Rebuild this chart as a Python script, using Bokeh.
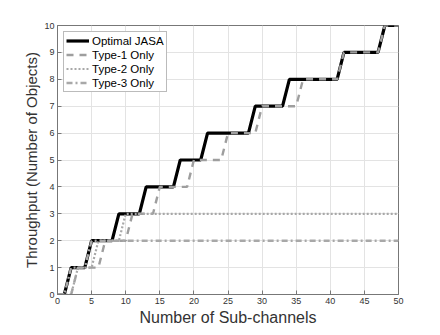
from bokeh.plotting import figure
from bokeh.models import Range1d, FixedTicker, Legend, LegendItem
from bokeh.embed import file_html
from bokeh.resources import INLINE

sub_channels = list(range(0, 51))
optimal_jasa = [0, 0, 1, 1, 1, 2, 2, 2, 2, 3, 3, 3, 3, 4, 4, 4, 4, 4, 5, 5,
                5, 5, 6, 6, 6, 6, 6, 6, 6, 7, 7, 7, 7, 7, 8, 8, 8, 8, 8, 8,
                8, 8, 9, 9, 9, 9, 9, 9, 10, 10, 10]
type1_only = [0, 0, 0, 1, 1, 1, 1, 2, 2, 2, 2, 3, 3, 3, 3, 4, 4, 4, 4, 4,
              5, 5, 5, 5, 5, 6, 6, 6, 6, 6, 7, 7, 7, 7, 7, 7, 8, 8, 8, 8,
              8, 8, 9, 9, 9, 9, 9, 9, 10, 10, 10]
type2_only = [0, 0, 0, 1, 1, 1, 2, 2, 2, 2, 3, 3, 3, 3, 3, 3, 3, 3, 3, 3,
              3, 3, 3, 3, 3, 3, 3, 3, 3, 3, 3, 3, 3, 3, 3, 3, 3, 3, 3, 3,
              3, 3, 3, 3, 3, 3, 3, 3, 3, 3, 3]
type3_only = [0, 0, 1, 1, 1, 2, 2, 2, 2, 2, 2, 2, 2, 2, 2, 2, 2, 2, 2, 2,
              2, 2, 2, 2, 2, 2, 2, 2, 2, 2, 2, 2, 2, 2, 2, 2, 2, 2, 2, 2,
              2, 2, 2, 2, 2, 2, 2, 2, 2, 2, 2]
x_ticks = [0, 5, 10, 15, 20, 25, 30, 35, 40, 45, 50]
y_ticks = [0, 1, 2, 3, 4, 5, 6, 7, 8, 9, 10]

FONT = "Liberation Sans"
AX = "#777777"
TXT = "#333333"

p = figure(width=438, height=333, x_range=Range1d(0, 50), y_range=Range1d(0, 10),
           output_backend="svg", toolbar_location=None,
           min_border_left=57, min_border_right=40, min_border_top=25,
           min_border_bottom=39)
p.background_fill_color = "white"
p.border_fill_color = "white"
p.outline_line_color = AX
p.outline_line_width = 1

for ax, t in ((p.xaxis[0], x_ticks), (p.yaxis[0], y_ticks)):
    ax.ticker = FixedTicker(ticks=t)
    ax.major_tick_in = 4
    ax.major_tick_out = 0
    ax.minor_tick_line_color = None
    ax.axis_line_color = AX
    ax.major_tick_line_color = AX
    ax.major_label_text_font = FONT
    ax.major_label_text_font_size = "9px"
    ax.major_label_text_color = TXT
    ax.axis_label_text_font = FONT
    ax.axis_label_text_font_style = "normal"
    ax.axis_label_text_color = TXT
    ax.major_label_standoff = 3

p.xaxis.axis_label = "Number of Sub-channels"
p.xaxis.axis_label_text_font_size = "16px"
p.xaxis.axis_label_standoff = 2
p.yaxis.axis_label = "Throughput (Number of Objects)"
p.yaxis.axis_label_text_font_size = "15px"
p.yaxis.axis_label_standoff = 1

p.xgrid.ticker = FixedTicker(ticks=x_ticks)
p.ygrid.ticker = FixedTicker(ticks=y_ticks)
p.grid.grid_line_color = "#e3e3e3"
p.grid.grid_line_width = 1

r0 = p.line(sub_channels, optimal_jasa, line_color="black", line_width=3.2)
r1 = p.line(sub_channels, type1_only, line_color="#9e9e9e", line_width=2.4,
            line_dash="7 6")
r2 = p.line(sub_channels, type2_only, line_color="#a8a8a8", line_width=2.2,
            line_dash="2 2")
r3 = p.line(sub_channels, type3_only, line_color="#a8a8a8", line_width=2.4,
            line_dash="6 3 2 3")

legend = Legend(items=[
    LegendItem(label="Optimal JASA", renderers=[r0]),
    LegendItem(label="Type-1 Only", renderers=[r1]),
    LegendItem(label="Type-2 Only", renderers=[r2]),
    LegendItem(label="Type-3 Only", renderers=[r3]),
], location="top_left")
legend.label_text_font = FONT
legend.label_text_font_size = "11.5px"
legend.label_text_color = "black"
legend.border_line_color = AX
legend.border_line_width = 1
legend.background_fill_color = "white"
legend.background_fill_alpha = 1
legend.margin = 6
legend.padding = 2
legend.spacing = 1
legend.glyph_width = 23
legend.glyph_height = 13
legend.label_height = 13
legend.label_standoff = 3
p.add_layout(legend)

open("out.html", "w").write(file_html(p, INLINE))
